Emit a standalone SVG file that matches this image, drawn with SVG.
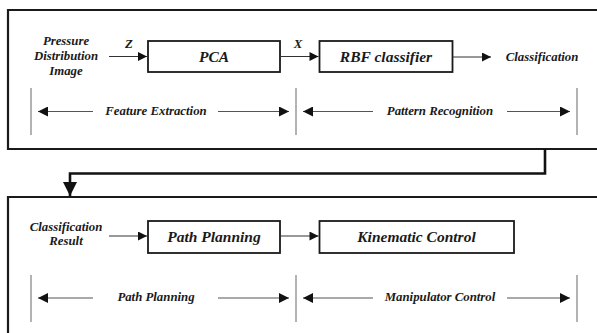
<svg xmlns="http://www.w3.org/2000/svg" width="597" height="333" viewBox="0 0 597 333">
  <defs>
    <marker id="ah" viewBox="0 0 10 10" refX="10" refY="5" markerWidth="10" markerHeight="9" markerUnits="userSpaceOnUse" orient="auto">
      <path d="M0,0 L10,5 L0,10 z" fill="#111"/>
    </marker>
    <marker id="ahSpan" viewBox="0 0 10 10" refX="10" refY="5" markerWidth="12" markerHeight="10" markerUnits="userSpaceOnUse" orient="auto">
      <path d="M0,0 L10,5 L0,10 z" fill="#111"/>
    </marker>
    <marker id="ahBig" viewBox="0 0 10 10" refX="10" refY="5" markerWidth="14" markerHeight="15" markerUnits="userSpaceOnUse" orient="auto">
      <path d="M0,0 L10,5 L0,10 z" fill="#111"/>
    </marker>
  </defs>
  <style>
    text { font-family: "Liberation Serif", "Times New Roman", "DejaVu Serif", serif; font-weight: bold; font-style: italic; fill: #1a1a1a; text-anchor: middle; }
    .big { font-size: 15.5px; }
    .small { font-size: 12.8px; }
    .frame { fill: none; stroke: #1a1a1a; stroke-width: 2.2; }
    .block { fill: #fff; stroke: #1a1a1a; stroke-width: 1.8; }
    .flow { stroke: #333; stroke-width: 1.2; fill: none; marker-end: url(#ah); }
    .span { stroke: #555; stroke-width: 1.1; fill: none; marker-end: url(#ahSpan); }
    .tick { stroke: #8a8a8a; stroke-width: 1.3; }
    .link { stroke: #111; stroke-width: 2.6; fill: none; marker-end: url(#ahBig); }
  </style>
  <rect width="597" height="333" fill="#fff"/>

  <!-- recognition stage -->
  <g id="stage-recognition">
    <path class="frame" d="M600,10 H8 V149 H600"/>
    <text class="small" x="66" y="45">Pressure</text>
    <text class="small" x="66" y="60">Distribution</text>
    <text class="small" x="66" y="75">Image</text>
    <text class="small" x="129" y="48">Z</text>
    <text class="small" x="298" y="48">X</text>
    <text class="small" x="542" y="61">Classification</text>
  </g>
  <g id="pca">
    <rect class="block" x="148" y="41" width="132" height="31"/>
    <text class="big" x="214" y="62">PCA</text>
  </g>
  <g id="rbf">
    <rect class="block" x="319.5" y="41" width="133" height="31"/>
    <text class="big" x="386" y="62">RBF classifier</text>
  </g>
  <g id="feature-extraction">
    <line class="tick" x1="31" y1="88" x2="31" y2="135"/>
    <text class="small" x="156" y="115">Feature Extraction</text>
  </g>
  <g id="pattern-recognition">
    <line class="tick" x1="296" y1="88" x2="296" y2="135"/>
    <line class="tick" x1="577" y1="88" x2="577" y2="135"/>
    <text class="small" x="440" y="115">Pattern Recognition</text>
  </g>

  <!-- control stage -->
  <g id="stage-control">
    <path class="frame" d="M600,197 H8 V340"/>
    <text class="small" x="66" y="231">Classification</text>
    <text class="small" x="66" y="245">Result</text>
  </g>
  <g id="path-planning-block">
    <rect class="block" x="148" y="221" width="132" height="32"/>
    <text class="big" x="214" y="242">Path Planning</text>
  </g>
  <g id="kinematic-control">
    <rect class="block" x="319.5" y="221" width="194.5" height="32"/>
    <text class="big" x="416.5" y="242">Kinematic Control</text>
  </g>
  <g id="path-planning-span">
    <line class="tick" x1="31" y1="275" x2="31" y2="322"/>
    <text class="small" x="156" y="301">Path Planning</text>
  </g>
  <g id="manipulator-control">
    <line class="tick" x1="296" y1="275" x2="296" y2="322"/>
    <line class="tick" x1="577" y1="275" x2="577" y2="322"/>
    <text class="small" x="440" y="301">Manipulator Control</text>
  </g>

  <!-- connectors -->
  <g id="connectors">
    <line class="flow" x1="109" y1="56.5" x2="147" y2="56.5"/>
    <line class="flow" x1="280" y1="56.5" x2="318.5" y2="56.5"/>
    <line class="flow" x1="452.5" y1="57" x2="491" y2="57"/>
    <line class="span" x1="93" y1="111.5" x2="38" y2="111.5"/>
    <line class="span" x1="218" y1="111.5" x2="289" y2="111.5"/>
    <line class="span" x1="373" y1="111.5" x2="303" y2="111.5"/>
    <line class="span" x1="507" y1="111.5" x2="570" y2="111.5"/>

    <path class="link" d="M545,149 V173.5 H70 V196"/>

    <line class="flow" x1="109" y1="236" x2="147" y2="236"/>
    <line class="flow" x1="280" y1="236" x2="318.5" y2="236"/>
    <line class="span" x1="93" y1="298" x2="38" y2="298"/>
    <line class="span" x1="218" y1="298" x2="289" y2="298"/>
    <line class="span" x1="373" y1="298" x2="303" y2="298"/>
    <line class="span" x1="507" y1="298" x2="570" y2="298"/>
  </g>
</svg>
